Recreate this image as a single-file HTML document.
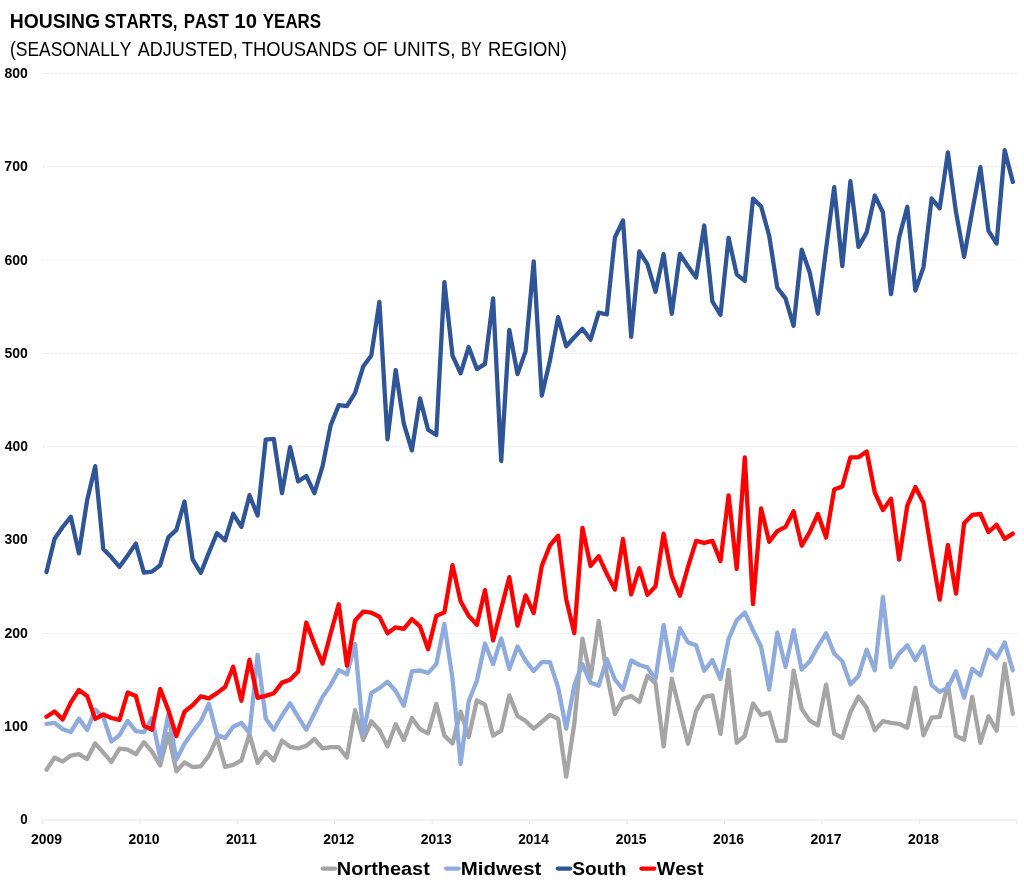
<!DOCTYPE html>
<html><head><meta charset="utf-8"><title>Housing Starts</title>
<style>
html,body{margin:0;padding:0;background:#fff;}
body{width:1024px;height:888px;overflow:hidden;font-family:"Liberation Sans",sans-serif;}
svg{display:block;will-change:transform;}
text{font-family:"Liberation Sans",sans-serif;fill:#000;}
.ln{fill:none;stroke-linejoin:round;stroke-linecap:round;stroke-width:4.3;}
</style></head><body>
<svg width="1024" height="888" viewBox="0 0 1024 888">
<rect width="1024" height="888" fill="#fff"/>

<text transform="translate(9.70,28.40) scale(0.9832,1)" font-size="19.70" style="font-kerning:none" font-weight="bold">HOUSING</text>
<text transform="translate(104.61,28.40) scale(0.8654,1)" font-size="19.70" style="font-kerning:none" font-weight="bold">STARTS,</text>
<text transform="translate(183.67,28.40) scale(0.8606,1)" font-size="19.70" style="font-kerning:none" font-weight="bold">PAST</text>
<text transform="translate(234.43,28.40) scale(1.0270,1)" font-size="19.70" style="font-kerning:none" font-weight="bold">10</text>
<text transform="translate(262.81,28.40) scale(0.8597,1)" font-size="19.70" style="font-kerning:none" font-weight="bold">YEARS</text>
<text transform="translate(9.92,55.60) scale(0.8875,1)" font-size="19.70" style="font-kerning:none">(SEASONALLY</text>
<text transform="translate(137.66,55.60) scale(0.9141,1)" font-size="19.70" style="font-kerning:none">ADJUSTED,</text>
<text transform="translate(241.79,55.60) scale(0.9327,1)" font-size="19.70" style="font-kerning:none">THOUSANDS</text>
<text transform="translate(362.97,55.60) scale(0.8933,1)" font-size="19.70" style="font-kerning:none">OF</text>
<text transform="translate(393.34,55.60) scale(0.9627,1)" font-size="19.70" style="font-kerning:none">UNITS,</text>
<text transform="translate(460.93,55.60) scale(0.7883,1)" font-size="19.70" style="font-kerning:none">BY</text>
<text transform="translate(487.99,55.60) scale(0.9357,1)" font-size="19.70" style="font-kerning:none">REGION)</text>
<line x1="42.4" x2="1017" y1="726.79" y2="726.79" stroke="#eeeeee" stroke-width="1.2" stroke-dasharray="3 1"/>
<line x1="42.4" x2="1017" y1="633.48" y2="633.48" stroke="#eeeeee" stroke-width="1.2" stroke-dasharray="3 1"/>
<line x1="42.4" x2="1017" y1="540.17" y2="540.17" stroke="#eeeeee" stroke-width="1.2" stroke-dasharray="3 1"/>
<line x1="42.4" x2="1017" y1="446.86" y2="446.86" stroke="#eeeeee" stroke-width="1.2" stroke-dasharray="3 1"/>
<line x1="42.4" x2="1017" y1="353.55" y2="353.55" stroke="#eeeeee" stroke-width="1.2" stroke-dasharray="3 1"/>
<line x1="42.4" x2="1017" y1="260.24" y2="260.24" stroke="#eeeeee" stroke-width="1.2" stroke-dasharray="3 1"/>
<line x1="42.4" x2="1017" y1="166.93" y2="166.93" stroke="#eeeeee" stroke-width="1.2" stroke-dasharray="3 1"/>
<line x1="42.4" x2="1017" y1="73.62" y2="73.62" stroke="#eeeeee" stroke-width="1.2" stroke-dasharray="3 1"/>
<line x1="42" x2="1017.3" y1="820" y2="820" stroke="#e8e8e8" stroke-width="1.2"/>
<line x1="42.40" x2="42.40" y1="820" y2="824.3" stroke="#e8e8e8" stroke-width="1.2"/>
<line x1="139.85" x2="139.85" y1="820" y2="824.3" stroke="#e8e8e8" stroke-width="1.2"/>
<line x1="237.30" x2="237.30" y1="820" y2="824.3" stroke="#e8e8e8" stroke-width="1.2"/>
<line x1="334.75" x2="334.75" y1="820" y2="824.3" stroke="#e8e8e8" stroke-width="1.2"/>
<line x1="432.20" x2="432.20" y1="820" y2="824.3" stroke="#e8e8e8" stroke-width="1.2"/>
<line x1="529.65" x2="529.65" y1="820" y2="824.3" stroke="#e8e8e8" stroke-width="1.2"/>
<line x1="627.10" x2="627.10" y1="820" y2="824.3" stroke="#e8e8e8" stroke-width="1.2"/>
<line x1="724.55" x2="724.55" y1="820" y2="824.3" stroke="#e8e8e8" stroke-width="1.2"/>
<line x1="822.00" x2="822.00" y1="820" y2="824.3" stroke="#e8e8e8" stroke-width="1.2"/>
<line x1="919.45" x2="919.45" y1="820" y2="824.3" stroke="#e8e8e8" stroke-width="1.2"/>
<line x1="1016.90" x2="1016.90" y1="820" y2="824.3" stroke="#e8e8e8" stroke-width="1.2"/>
<text transform="translate(20.37,824.40) scale(0.9612,1)" font-size="14.00" style="font-kerning:none" font-weight="bold">0</text>
<text transform="translate(4.00,731.09) scale(1.0227,1)" font-size="14.00" style="font-kerning:none" font-weight="bold">100</text>
<text transform="translate(4.41,637.78) scale(1.0045,1)" font-size="14.00" style="font-kerning:none" font-weight="bold">200</text>
<text transform="translate(4.58,544.47) scale(0.9972,1)" font-size="14.00" style="font-kerning:none" font-weight="bold">300</text>
<text transform="translate(4.69,451.16) scale(0.9924,1)" font-size="14.00" style="font-kerning:none" font-weight="bold">400</text>
<text transform="translate(4.47,357.85) scale(1.0021,1)" font-size="14.00" style="font-kerning:none" font-weight="bold">500</text>
<text transform="translate(4.38,264.54) scale(1.0058,1)" font-size="14.00" style="font-kerning:none" font-weight="bold">600</text>
<text transform="translate(4.29,171.23) scale(1.0098,1)" font-size="14.00" style="font-kerning:none" font-weight="bold">700</text>
<text transform="translate(4.45,77.92) scale(1.0027,1)" font-size="14.00" style="font-kerning:none" font-weight="bold">800</text>
<text transform="translate(30.98,844.00) scale(0.9954,1)" font-size="14.00" style="font-kerning:none" font-weight="bold">2009</text>
<text transform="translate(128.43,844.00) scale(0.9972,1)" font-size="14.00" style="font-kerning:none" font-weight="bold">2010</text>
<text transform="translate(225.88,844.00) scale(0.9911,1)" font-size="14.00" style="font-kerning:none" font-weight="bold">2011</text>
<text transform="translate(323.33,844.00) scale(0.9967,1)" font-size="14.00" style="font-kerning:none" font-weight="bold">2012</text>
<text transform="translate(420.78,844.00) scale(0.9949,1)" font-size="14.00" style="font-kerning:none" font-weight="bold">2013</text>
<text transform="translate(518.23,844.00) scale(0.9809,1)" font-size="14.00" style="font-kerning:none" font-weight="bold">2014</text>
<text transform="translate(615.68,844.00) scale(0.9911,1)" font-size="14.00" style="font-kerning:none" font-weight="bold">2015</text>
<text transform="translate(713.12,844.00) scale(0.9949,1)" font-size="14.00" style="font-kerning:none" font-weight="bold">2016</text>
<text transform="translate(810.57,844.00) scale(0.9985,1)" font-size="14.00" style="font-kerning:none" font-weight="bold">2017</text>
<text transform="translate(908.03,844.00) scale(0.9924,1)" font-size="14.00" style="font-kerning:none" font-weight="bold">2018</text>
<polyline class="ln" stroke="#A5A5A5" points="46.5,769.7 54.6,757.6 62.7,761.5 70.8,755.6 78.9,754.2 87.1,759.1 95.2,743.3 103.3,752.6 111.4,761.8 119.5,748.7 127.7,749.7 135.8,754.2 143.9,742.2 152.0,751.7 160.2,765.4 168.3,734.0 176.4,771.3 184.5,762.4 192.6,767.0 200.8,766.3 208.9,755.6 217.0,737.9 225.1,766.8 233.2,764.9 241.4,760.3 249.5,734.1 257.6,762.9 265.7,751.8 273.8,760.5 282.0,740.6 290.1,746.8 298.2,748.4 306.3,745.9 314.4,739.0 322.6,748.4 330.7,747.2 338.8,747.2 346.9,757.6 355.1,710.2 363.2,740.0 371.3,721.3 379.4,730.2 387.5,746.4 395.7,724.3 403.8,740.0 411.9,717.9 420.0,729.2 428.1,733.2 436.3,703.9 444.4,735.6 452.5,743.5 460.6,711.7 468.7,737.1 476.9,700.3 485.0,704.6 493.1,735.6 501.2,730.7 509.3,695.4 517.5,716.0 525.6,720.9 533.7,728.7 541.8,721.9 549.9,715.0 558.1,718.9 566.2,776.7 574.3,723.9 582.4,638.6 590.6,677.7 598.7,621.0 606.8,673.8 614.9,714.1 623.0,698.7 631.2,696.1 639.3,702.0 647.4,675.8 655.5,683.1 663.6,746.4 671.8,678.6 679.9,711.1 688.0,743.7 696.1,711.1 704.2,696.8 712.4,695.4 720.5,733.9 728.6,669.9 736.7,742.8 744.8,735.9 753.0,703.6 761.1,715.0 769.2,712.5 777.3,740.8 785.5,740.7 793.6,670.6 801.7,708.9 809.8,720.6 817.9,725.3 826.1,684.6 834.2,733.7 842.3,737.9 850.4,712.2 858.5,696.6 866.7,708.0 874.8,730.4 882.9,721.2 891.0,722.8 899.1,723.8 907.3,727.7 915.4,687.9 923.5,735.3 931.6,717.7 939.7,716.9 947.9,684.0 956.0,735.9 964.1,739.8 972.2,696.8 980.4,742.8 988.5,716.4 996.6,730.7 1004.7,664.0 1012.8,713.8"/>
<polyline class="ln" stroke="#8FAADC" points="46.5,723.9 54.6,722.9 62.7,729.2 70.8,732.1 78.9,718.7 87.1,730.1 95.2,709.6 103.3,717.3 111.4,741.5 119.5,735.1 127.7,720.9 135.8,731.1 143.9,732.1 152.0,718.3 160.2,757.5 168.3,714.5 176.4,759.5 184.5,743.8 192.6,732.1 200.8,721.3 208.9,703.7 217.0,735.1 225.1,737.9 233.2,726.7 241.4,722.9 249.5,733.1 257.6,654.8 265.7,718.4 273.8,729.8 282.0,715.5 290.1,703.3 298.2,717.0 306.3,729.8 314.4,713.5 322.6,696.9 330.7,685.1 338.8,670.1 346.9,674.4 355.1,644.0 363.2,734.1 371.3,693.0 379.4,688.1 387.5,681.8 395.7,691.0 403.8,705.7 411.9,671.4 420.0,670.5 428.1,672.9 436.3,664.1 444.4,624.0 452.5,678.8 460.6,764.0 468.7,701.3 476.9,680.7 485.0,643.5 493.1,664.1 501.2,638.4 509.3,669.0 517.5,646.4 525.6,660.6 533.7,671.1 541.8,662.1 549.9,662.1 558.1,687.5 566.2,728.7 574.3,685.6 582.4,664.1 590.6,682.8 598.7,685.6 606.8,659.0 614.9,679.5 623.0,689.7 631.2,660.5 639.3,665.0 647.4,667.4 655.5,679.1 663.6,624.9 671.8,670.7 679.9,628.2 688.0,642.5 696.1,645.3 704.2,670.7 712.4,660.1 720.5,679.1 728.6,639.0 736.7,620.3 744.8,612.5 753.0,630.1 761.1,646.8 769.2,689.5 777.3,632.7 785.5,666.9 793.6,630.1 801.7,669.5 809.8,661.3 817.9,646.4 826.1,633.3 834.2,653.5 842.3,661.3 850.4,684.4 858.5,676.0 866.7,649.7 874.8,670.2 882.9,596.9 891.0,667.0 899.1,653.7 907.3,645.3 915.4,660.1 923.5,646.4 931.6,685.0 939.7,691.8 947.9,687.5 956.0,671.3 964.1,697.7 972.2,668.8 980.4,675.2 988.5,649.7 996.6,658.1 1004.7,642.5 1012.8,670.3"/>
<polyline class="ln" stroke="#2F5597" points="46.5,572.0 54.6,538.8 62.7,527.0 70.8,516.8 78.9,553.4 87.1,500.5 95.2,466.2 103.3,549.1 111.4,557.3 119.5,566.8 127.7,555.4 135.8,543.6 143.9,572.6 152.0,571.6 160.2,565.2 168.3,537.4 176.4,529.9 184.5,501.5 192.6,559.3 200.8,573.0 208.9,552.5 217.0,533.2 225.1,540.3 233.2,513.8 241.4,526.9 249.5,495.2 257.6,515.5 265.7,439.7 273.8,438.8 282.0,493.2 290.1,447.2 298.2,481.4 306.3,476.0 314.4,493.2 322.6,466.2 330.7,425.1 338.8,405.1 346.9,406.1 355.1,392.9 363.2,366.6 371.3,355.4 379.4,301.9 387.5,439.4 395.7,370.1 403.8,423.6 411.9,450.4 420.0,398.4 428.1,429.7 436.3,435.0 444.4,282.1 452.5,355.6 460.6,373.3 468.7,347.0 476.9,369.1 485.0,363.9 493.1,298.4 501.2,461.0 509.3,329.9 517.5,374.1 525.6,351.4 533.7,261.5 541.8,395.6 549.9,360.7 558.1,317.2 566.2,346.2 574.3,337.2 582.4,328.8 590.6,339.7 598.7,312.7 606.8,314.5 614.9,237.5 623.0,220.5 631.2,336.8 639.3,251.5 647.4,264.2 655.5,291.7 663.6,254.0 671.8,313.8 679.9,254.0 688.0,266.2 696.1,277.4 704.2,225.5 712.4,301.5 720.5,314.8 728.6,237.8 736.7,274.4 744.8,280.9 753.0,198.6 761.1,206.4 769.2,235.8 777.3,287.7 785.5,298.4 793.6,325.8 801.7,249.7 809.8,272.8 817.9,313.6 826.1,248.7 834.2,187.1 842.3,266.0 850.4,181.2 858.5,246.9 866.7,232.4 874.8,195.5 882.9,212.2 891.0,294.2 899.1,237.7 907.3,206.8 915.4,290.6 923.5,267.1 931.6,198.5 939.7,208.3 947.9,152.5 956.0,212.2 964.1,256.9 972.2,211.3 980.4,167.2 988.5,230.9 996.6,243.6 1004.7,150.2 1012.8,181.9"/>
<polyline class="ln" stroke="#FF0000" points="46.5,716.8 54.6,711.5 62.7,719.4 70.8,702.4 78.9,690.0 87.1,695.9 95.2,718.9 103.3,714.5 111.4,718.0 119.5,719.9 127.7,692.5 135.8,695.9 143.9,725.8 152.0,729.7 160.2,688.9 168.3,709.9 176.4,736.0 184.5,711.7 192.6,705.2 200.8,696.4 208.9,698.4 217.0,693.1 225.1,687.0 233.2,666.7 241.4,700.8 249.5,659.6 257.6,697.9 265.7,695.9 273.8,693.3 282.0,682.6 290.1,679.8 298.2,671.4 306.3,622.5 314.4,644.0 322.6,663.6 330.7,633.2 338.8,604.2 346.9,665.5 355.1,620.5 363.2,611.7 371.3,612.7 379.4,616.6 387.5,633.2 395.7,627.3 403.8,628.9 411.9,619.1 420.0,626.4 428.1,649.3 436.3,615.9 444.4,612.4 452.5,565.1 460.6,601.3 468.7,615.9 476.9,624.8 485.0,590.1 493.1,640.5 501.2,608.6 509.3,577.2 517.5,625.7 525.6,595.4 533.7,613.1 541.8,566.0 549.9,545.5 558.1,535.7 566.2,599.3 574.3,633.2 582.4,527.8 590.6,566.0 598.7,556.2 606.8,573.8 614.9,589.6 623.0,539.0 631.2,594.4 639.3,568.2 647.4,594.8 655.5,586.5 663.6,533.6 671.8,576.1 679.9,595.7 688.0,566.9 696.1,540.9 704.2,542.9 712.4,540.9 720.5,561.1 728.6,495.4 736.7,568.9 744.8,457.3 753.0,604.2 761.1,508.5 769.2,541.8 777.3,531.1 785.5,526.9 793.6,511.2 801.7,545.6 809.8,531.9 817.9,514.0 826.1,537.5 834.2,489.6 842.3,486.5 850.4,457.3 858.5,457.3 866.7,451.5 874.8,492.5 882.9,510.1 891.0,498.8 899.1,559.5 907.3,505.6 915.4,487.0 923.5,502.7 931.6,552.7 939.7,599.6 947.9,544.8 956.0,593.7 964.1,523.3 972.2,514.9 980.4,514.0 988.5,532.0 996.6,524.8 1004.7,538.9 1012.8,533.6"/>
<line x1="322.7" x2="335.1" y1="868.6" y2="868.6" stroke="#A5A5A5" stroke-width="4.3" stroke-linecap="round"/>
<text transform="translate(336.87,874.60) scale(1.0540,1)" font-size="18.90" style="font-kerning:none" font-weight="bold">Northeast</text>
<line x1="446.1" x2="458.7" y1="868.6" y2="868.6" stroke="#8FAADC" stroke-width="4.3" stroke-linecap="round"/>
<text transform="translate(460.73,874.60) scale(1.0826,1)" font-size="18.90" style="font-kerning:none" font-weight="bold">Midwest</text>
<line x1="557.8" x2="570.2" y1="868.6" y2="868.6" stroke="#2F5597" stroke-width="4.3" stroke-linecap="round"/>
<text transform="translate(572.25,874.60) scale(1.0112,1)" font-size="18.90" style="font-kerning:none" font-weight="bold">South</text>
<line x1="641.4" x2="654.2" y1="868.6" y2="868.6" stroke="#FF0000" stroke-width="4.3" stroke-linecap="round"/>
<text transform="translate(656.78,874.60) scale(1.0355,1)" font-size="18.90" style="font-kerning:none" font-weight="bold">West</text>
</svg></body></html>
